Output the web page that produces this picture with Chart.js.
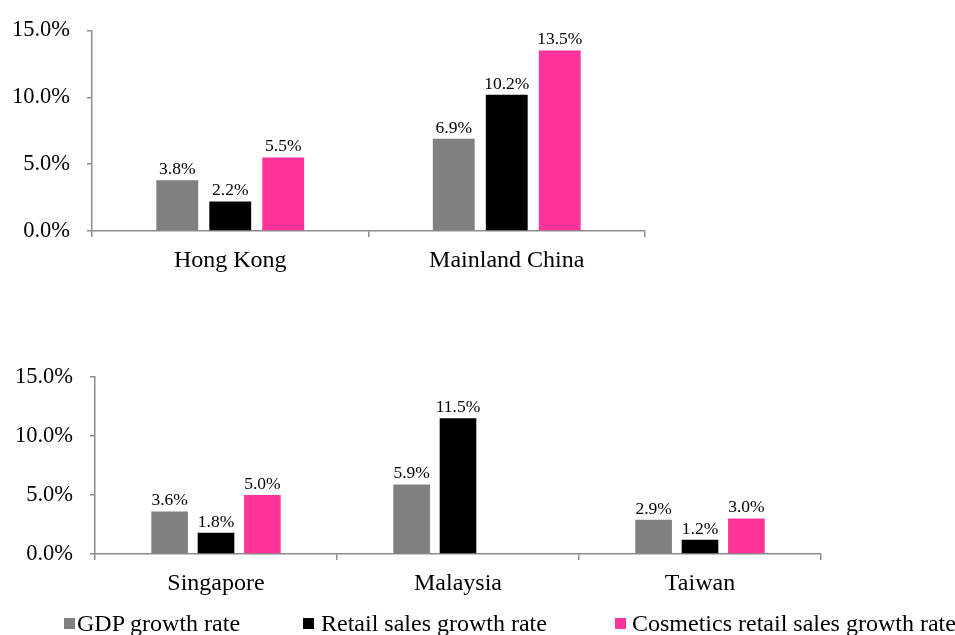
<!DOCTYPE html>
<html>
<head>
<meta charset="utf-8">
<script src="https://cdn.jsdelivr.net/npm/chart.js@4.4.1/dist/chart.umd.min.js"></script>
<style>
  body { margin: 0; background: #fff; width: 955px; height: 635px; overflow: hidden; position: relative;
         font-family: 'Liberation Serif', 'Times New Roman', serif; }
  .wrap { position: absolute; left: 0; width: 955px; }
  #topWrap { top: 0; height: 290px; }
  #bottomWrap { top: 300px; height: 335px; }
  #legend { position: absolute; left: 0; top: 0; width: 955px; height: 635px; pointer-events: none; }
  .sw { position: absolute; width: 11px; height: 11px; top: 618px; }
  .txt { position: absolute; top: 611px; font-size: 24px; line-height: 24px; white-space: nowrap; color: #000; }
</style>
</head>
<body>
<div class="wrap" id="topWrap"><canvas id="topChart"></canvas></div>
<div class="wrap" id="bottomWrap"><canvas id="bottomChart"></canvas></div>
<div id="legend"></div>
<script>
// series
var seriesNames = ['GDP growth rate', 'Retail sales growth rate', 'Cosmetics retail sales growth rate'];
var seriesColors = ['#808080', '#000000', '#ff3399'];

// upper panel
var topCategories = ['Hong Kong', 'Mainland China'];
var topGdp = [3.8, 6.9];
var topRetail = [2.2, 10.2];
var topCosmetics = [5.5, 13.5];

// lower panel
var bottomCategories = ['Singapore', 'Malaysia', 'Taiwan'];
var bottomGdp = [3.6, 5.9, 2.9];
var bottomRetail = [1.8, 11.5, 1.2];
var bottomCosmetics = [5.0, null, 3.0];

// y axis ticks
var yTicks = [0, 5, 10, 15];

var axisColor = '#8c8c8c';
var serif = "'Liberation Serif', 'Times New Roman', serif";
Chart.defaults.font.family = serif;
Chart.defaults.color = '#000';

// value labels above each bar
var valueLabels = {
    id: 'valueLabels',
    afterDatasetsDraw: function(chart) {
        var ctx = chart.ctx;
        ctx.save();
        ctx.font = '17.5px ' + serif;
        ctx.fillStyle = '#000';
        ctx.textAlign = 'center';
        ctx.textBaseline = 'bottom';
        chart.data.datasets.forEach(function(ds, i) {
            chart.getDatasetMeta(i).data.forEach(function(bar, j) {
                var v = ds.data[j];
                if (v === null || v === undefined) return;
                ctx.fillText(v.toFixed(1) + '%', bar.x, bar.y - 2);
            });
        });
        ctx.restore();
    }
};

function makeChart(id, labels, gdp, retail, cosmetics, layout) {
    var values = [gdp, retail, cosmetics];
    var ctx = document.getElementById(id).getContext('2d');
    return new Chart(ctx, {
        type: 'bar',
        data: {
            labels: labels,
            datasets: values.map(function(vals, i) {
                return {
                    label: seriesNames[i],
                    data: vals,
                    backgroundColor: seriesColors[i],
                    borderWidth: 0,
                    categoryPercentage: 0.575,
                    barPercentage: 0.79
                };
            })
        },
        options: {
            responsive: true,
            maintainAspectRatio: false,
            animation: false,
            layout: { padding: { top: layout.top, right: layout.right, left: 0, bottom: 0 } },
            plugins: {
                legend: { display: false },
                tooltip: { enabled: false }
            },
            scales: {
                x: {
                    grid: { drawOnChartArea: false, drawTicks: true, tickLength: 6, color: axisColor, lineWidth: 1.5 },
                    border: { color: axisColor, width: 1.5 },
                    ticks: { font: { size: 24 }, color: '#000', padding: 9, maxRotation: 0 },
                    afterFit: function(scale) { scale.height = layout.xHeight; }
                },
                y: {
                    min: 0,
                    max: 15,
                    afterBuildTicks: function(scale) {
                        scale.ticks = yTicks.map(function(v) { return { value: v }; });
                    },
                    grid: { drawOnChartArea: false, drawTicks: true, tickLength: 5, color: axisColor, lineWidth: 1.5 },
                    border: { color: axisColor, width: 1.5 },
                    ticks: {
                        font: { size: 22.5 },
                        color: '#000',
                        padding: 17,
                        callback: function(v) { return Number(v).toFixed(1) + '%'; }
                    },
                    afterFit: function(scale) { scale.width = layout.yWidth; }
                }
            }
        },
        plugins: [valueLabels]
    });
}

makeChart('topChart', topCategories, topGdp, topRetail, topCosmetics,
    { top: 28, right: 310, xHeight: 59, yWidth: 92 });
makeChart('bottomChart', bottomCategories, bottomGdp, bottomRetail, bottomCosmetics,
    { top: 77, right: 134, xHeight: 81, yWidth: 95 });

// legend
var legendBox = [64, 303, 615];
var legendText = [77, 321, 632];
var legend = document.getElementById('legend');
seriesNames.forEach(function(name, i) {
    var sw = document.createElement('span');
    sw.className = 'sw';
    sw.style.left = legendBox[i] + 'px';
    sw.style.background = seriesColors[i];
    legend.appendChild(sw);
    var t = document.createElement('span');
    t.className = 'txt';
    t.style.left = legendText[i] + 'px';
    t.textContent = name;
    legend.appendChild(t);
});
</script>
</body>
</html>
